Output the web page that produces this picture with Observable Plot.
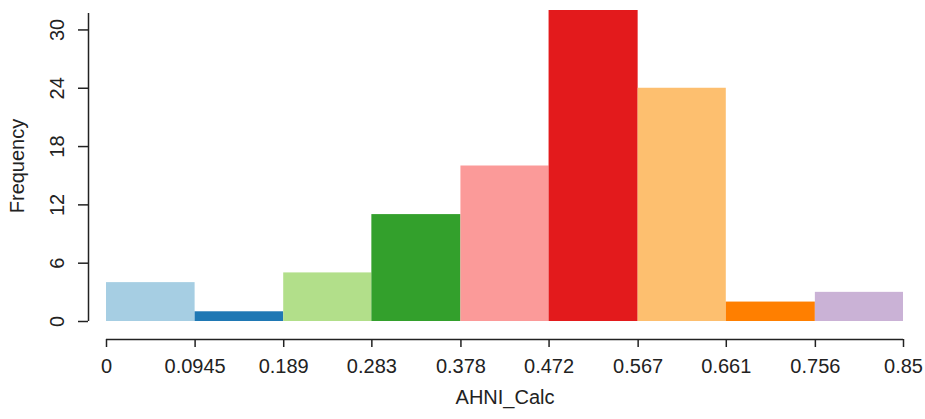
<!DOCTYPE html>
<html>
<head>
<meta charset="utf-8">
<script src="https://cdn.jsdelivr.net/npm/d3@7"></script>
<script src="https://cdn.jsdelivr.net/npm/@observablehq/plot@0.6"></script>
<style>
  html, body { margin: 0; padding: 0; background: #fff; }
  svg { display: block; }
</style>
</head>
<body>
<div id="chart"></div>
<script>
// Bin edges (tick labels on the x axis)
const binEdges = [0, 0.0945, 0.189, 0.283, 0.378, 0.472, 0.567, 0.661, 0.756, 0.85];
const binEdgeLabels = ["0", "0.0945", "0.189", "0.283", "0.378", "0.472", "0.567", "0.661", "0.756", "0.85"];
// Frequencies per bin
const counts = [4, 1, 5, 11, 16, 32, 24, 2, 3];
// Bar colours (ColorBrewer "Paired")
const barColors = ["#A6CEE3", "#1F78B4", "#B2DF8A", "#33A02C", "#FB9A99", "#E31A1C", "#FDBF6F", "#FF7F00", "#CAB2D6"];
// Y-axis ticks
const yTicks = [0, 6, 12, 18, 24, 30];

const bins = counts.map((c, i) => ({x1: binEdges[i], x2: binEdges[i + 1], count: c, color: barColors[i]}));

const font = "'Liberation Sans', Arial, sans-serif";

const chart = Plot.plot({
  width: 925,
  height: 419,
  marginLeft: 106,
  marginRight: 22,
  marginTop: 10,
  marginBottom: 98,
  style: {fontFamily: font, fontSize: "20px", color: "#222", background: "#fff"},
  x: {type: "linear", domain: [0, 0.85], axis: null},
  y: {type: "linear", domain: [0, 32], axis: null},
  marks: [
    Plot.rectY(bins, {x1: "x1", x2: "x2", y1: () => 0, y2: "count", fill: "color", inset: 0}),
    // X axis
    Plot.ruleY([0], {x1: 0, x2: 0.85, dy: 18, stroke: "#222", strokeWidth: 1.5}),
    Plot.axisX({ticks: binEdges, tickFormat: d => binEdgeLabels[binEdges.indexOf(d)], tickSize: 8, dy: 18, tickPadding: 11, stroke: "#222", strokeWidth: 1.5, fontSize: 20, fill: "#222", label: null}),
    // Y axis
    Plot.ruleX([0], {y1: 0, y2: 31.7, dx: -18, stroke: "#222", strokeWidth: 1.5}),
    Plot.axisY({ticks: yTicks, tickSize: 10, dx: -18, tickFormat: () => "", stroke: "#222", strokeWidth: 1.5, label: null}),
    Plot.text(yTicks, {y: d => d, frameAnchor: "left", dx: -49, rotate: -90, textAnchor: "middle", lineAnchor: "middle", text: d => String(d), fontSize: 20, fill: "#222"}),
    // Axis titles
    Plot.text(["Frequency"], {frameAnchor: "left", dx: -89, rotate: -90, textAnchor: "middle", lineAnchor: "middle", text: d => d, fontSize: 20, fill: "#222"}),
    Plot.text(["AHNI_Calc"], {frameAnchor: "bottom", dy: 82, text: d => d, fontSize: 20, fill: "#222"})
  ]
});

document.getElementById("chart").appendChild(chart);
</script>
</body>
</html>
